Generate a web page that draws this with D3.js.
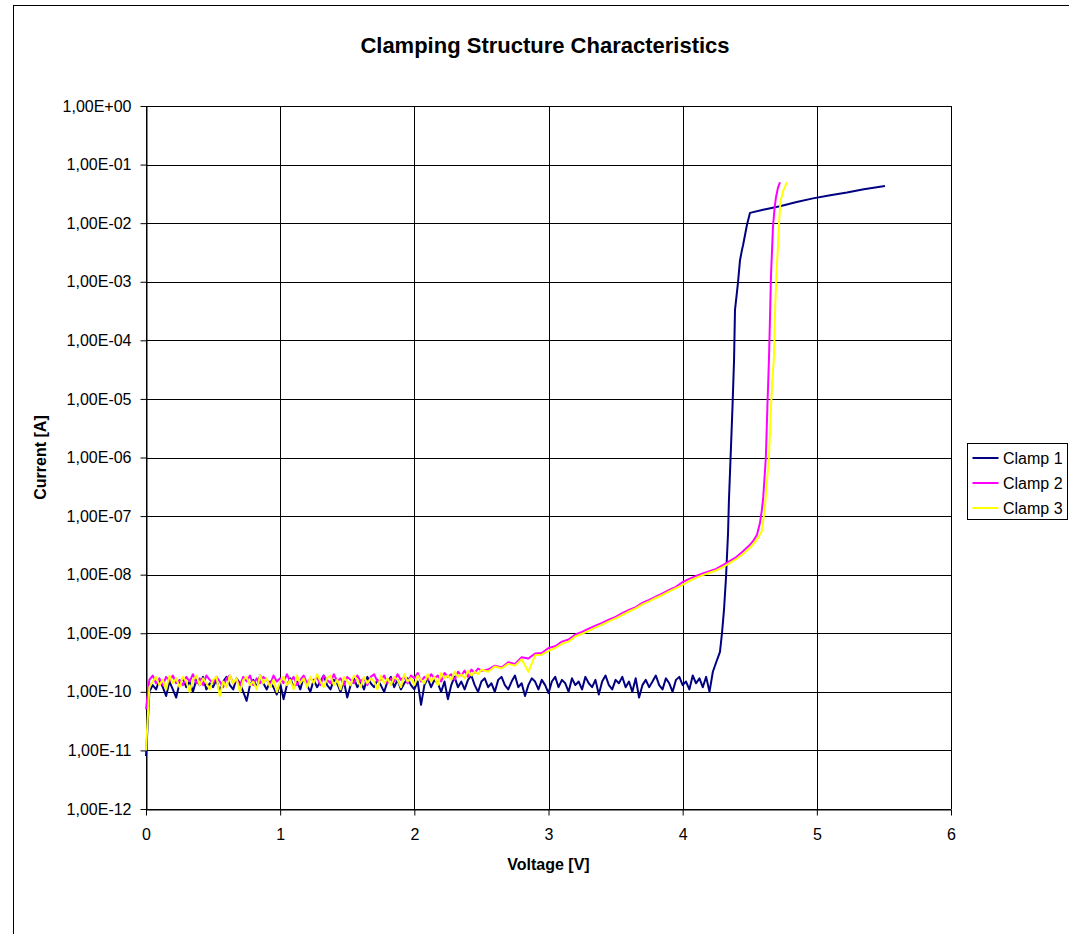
<!DOCTYPE html>
<html>
  <head>
    <meta charset="utf-8">
    <title>Clamping Structure Characteristics</title>
    <style>
      body {
        margin: 0;
        background: #fff;
      }
      svg text {
        font-family: "Liberation Sans", Arial, sans-serif;
        fill: #000;
      }
      .grid line {
        stroke: #000;
        stroke-width: 1;
      }
      .axis path, .axis line {
        stroke: #000;
      }
      .series {
        fill: none;
        stroke-width: 2;
        stroke-linejoin: round;
      }
    </style>
  </head>
  <body>

    <svg width="1069" height="934"></svg>
    <script src="https://cdn.jsdelivr.net/npm/d3@7"></script>

    <script>
      // Axis ticks
      var xTicks = [0, 1, 2, 3, 4, 5, 6];
      var yTicks = [1e-12, 1e-11, 1e-10, 1e-9, 1e-8, 1e-7, 1e-6, 1e-5, 1e-4, 1e-3, 1e-2, 1e-1, 1];
      var seriesNames = ["Clamp 1", "Clamp 2", "Clamp 3"];
      var seriesColors = ["#000080", "#ff00ff", "#ffff00"];

      // Sweep steps (V) of the measured segments
      var lowStart = 0, lowStep = 0.025;
      var midStart = 2.55, midStep = 0.05;

      // Clamp 1, leakage region, current in units of 1e-10 A (0 .. 4.2 V)
      var clamp1Low = [
        0.08, 1.0, 1.3, 1.1, 1.6, 1.2, 0.85, 1.5, 1.1, 0.8,
        1.4, 1.7, 1.2, 1.5, 1.0, 1.6, 1.3, 1.8, 1.1, 1.4,
        1.2, 1.6, 1.0, 1.5, 1.8, 1.3, 1.1, 1.7, 1.4, 1.0,
        0.7, 1.3, 1.6, 1.2, 1.9, 1.4, 1.1, 1.5, 1.2, 0.9,
        1.4, 0.75, 1.3, 1.7, 1.2, 1.5, 1.1, 1.8, 1.3, 1.0,
        1.6, 1.2, 1.5, 1.9, 1.3, 1.1, 1.6, 1.4, 1.0, 1.5,
        0.8, 1.3, 1.7, 1.2, 1.5, 1.1, 1.8, 1.4, 1.2, 1.6,
        1.3, 1.0, 1.5, 1.8, 1.2, 1.6, 1.1, 1.4, 1.7, 1.3,
        1.1, 1.5, 0.6, 1.3, 1.7, 1.2, 1.6, 1.4, 1.0, 1.5,
        0.75, 1.3, 1.8, 1.2, 1.5, 1.1, 1.6, 1.9, 1.3, 1.0,
        1.5, 1.7, 1.2, 1.4, 1.0, 1.6, 1.8, 1.3, 1.1, 1.5,
        1.9, 1.2, 1.4, 0.85, 1.3, 1.7, 1.5, 1.1, 1.6, 1.3,
        0.95, 1.5, 1.8, 1.2, 1.6, 1.4, 1.0, 1.7, 1.3, 1.5,
        1.1, 1.8, 1.4, 1.2, 1.6, 0.9, 1.5, 1.9, 1.3, 1.1,
        1.6, 1.4, 1.8, 1.2, 1.5, 1.0, 1.7, 0.8, 1.3, 1.6,
        1.2, 1.5, 1.9, 1.3, 1.1, 1.7, 1.4, 1.0, 1.6, 1.8,
        1.3, 1.5, 1.1, 1.9, 1.4, 1.7, 1.2, 1.8, 1.0
      ];
      // Clamp 1, breakdown region (V, A)
      var clamp1TailV = [4.225, 4.25, 4.278, 4.293, 4.308, 4.323, 4.338, 4.345, 4.36, 4.372, 4.383, 4.39, 4.412,
        4.427, 4.442, 4.45, 4.479, 4.502, 4.6, 4.725, 4.85, 4.971, 5.1, 5.225, 5.35, 5.508];
      var clamp1TailI = [2.2e-10, 3.2e-10, 4.8e-10, 1e-9, 2.5e-9, 9e-9, 5e-8, 1.9e-7, 1.5e-6, 8e-6, 4.6e-5, 3.3e-4, 9.5e-4,
        2.3e-3, 3.5e-3, 4.2e-3, 9.3e-3, 1.5e-2, 1.7e-2, 1.95e-2, 2.3e-2, 2.65e-2, 3.0e-2, 3.35e-2, 3.8e-2, 4.3e-2];

      // Clamp 2, leakage region, 1e-10 A (0 .. 2.5 V)
      var clamp2Low = [
        0.5, 1.6, 1.9, 1.4, 1.7, 1.3, 1.8, 1.5, 1.9, 1.4,
        1.6, 1.3, 1.8, 1.5, 2.0, 1.4, 1.7, 1.3, 1.9, 1.6,
        1.4, 1.8, 1.5, 1.2, 1.7, 1.9, 1.4, 1.6, 1.3, 1.8,
        1.5, 1.9, 1.3, 1.7, 1.4, 1.8, 1.6, 1.3, 1.9, 1.5,
        1.7, 1.4, 2.0, 1.5, 1.8, 1.3, 1.6, 1.9, 1.4, 1.7,
        1.5, 1.8, 1.3, 1.9, 1.6, 1.4, 2.0, 1.5, 1.7, 1.3,
        1.8, 1.6, 1.4, 1.9, 1.5, 1.7, 1.3, 1.8, 2.0, 1.5,
        1.6, 1.9, 1.4, 1.7, 1.5, 2.0, 1.6, 1.8, 1.4, 1.9,
        1.7, 2.1, 1.5, 1.8, 1.6, 2.0, 1.7, 1.9, 1.5, 2.1,
        1.8, 2.0, 1.6, 2.2, 1.9, 2.3, 1.8, 2.4, 2.1, 2.5,
        2.3
      ];
      // Clamp 2, exponential region, 1e-10 A (2.55 .. 4.5 V)
      var clamp2Mid = [
        2.4, 2.8, 2.6, 3.2, 3.0, 3.9, 3.7, 4.5, 4.6, 5.6,
        6.0, 7.2, 7.8, 9.5, 10.5, 12, 13.5, 15, 17, 19,
        22, 25, 28, 33, 37, 42, 48, 55, 62, 75,
        85, 95, 105, 115, 125, 145, 170, 200, 250, 320
      ];
      var clamp2TailV = [4.53, 4.554, 4.576, 4.59, 4.6, 4.62, 4.632, 4.643, 4.65, 4.658, 4.673, 4.685, 4.696, 4.71, 4.725];
      var clamp2TailI = [3.9e-8, 4.8e-8, 7.6e-8, 1.26e-7, 2e-7, 1e-6, 8e-6, 4.6e-5, 2e-4, 1.2e-3, 8.6e-3, 1.8e-2, 2.8e-2, 4e-2, 5e-2];

      // Clamp 3, leakage region, 1e-10 A (0 .. 2.5 V)
      var clamp3Low = [
        0.1, 1.2, 1.5, 1.8, 1.3, 1.6, 1.1, 1.9, 1.4, 1.7,
        1.2, 1.8, 1.5, 1.0, 1.6, 1.9, 1.3, 1.7, 1.4, 1.1,
        1.6, 1.8, 0.85, 1.5, 1.2, 1.9, 1.4, 1.7, 1.0, 1.6,
        1.8, 1.3, 1.5, 1.1, 1.9, 1.4, 1.7, 1.2, 1.6, 1.0,
        1.5, 1.8, 1.3, 1.6, 1.1, 1.9, 1.4, 1.7, 1.2, 1.8,
        1.4, 2.0, 1.5, 1.2, 1.7, 1.9, 1.3, 1.6, 1.1, 1.8,
        1.5, 1.3, 1.9, 1.6, 1.2, 1.8, 1.4, 1.7, 1.5, 1.1,
        1.9, 1.4, 1.7, 1.3, 1.8, 1.6, 1.2, 2.0, 1.5, 1.7,
        1.3, 1.9, 1.6, 1.4, 2.0, 1.5, 1.8, 1.3, 2.1, 1.7,
        1.9, 1.6, 2.2, 1.8, 2.0, 1.7, 2.3, 1.9, 2.2, 2.0,
        2.4
      ];
      var clamp3Mid = [
        2.2, 2.7, 2.5, 3.0, 2.8, 3.6, 2.2, 4.2, 4.3, 5.0,
        5.6, 6.6, 7.2, 8.8, 9.8, 11, 12.5, 14, 16, 18,
        20.5, 23.5, 26.5, 31, 35, 40, 45, 52, 59, 67,
        78, 88, 98, 108, 118, 135, 158, 185, 225, 285
      ];
      var clamp3TailV = [4.53, 4.56, 4.59, 4.61, 4.625, 4.643, 4.655, 4.668, 4.68, 4.69, 4.70, 4.71, 4.72, 4.73, 4.75, 4.777];
      var clamp3TailI = [3.4e-8, 4.2e-8, 5.5e-8, 1.2e-7, 3e-7, 1e-6, 5e-6, 2e-5, 5e-5, 4e-4, 1.5e-3, 4e-3, 1.2e-2, 2.4e-2, 3.6e-2, 5e-2];

      function buildSeries(low, mid, tailV, tailI) {
        var pts = low.map((c, k) => ({ v: lowStart + k * lowStep, i: c * 1e-10 }));
        mid.forEach((c, k) => pts.push({ v: midStart + k * midStep, i: c * 1e-10 }));
        tailV.forEach((v, k) => pts.push({ v: v, i: tailI[k] }));
        return pts;
      }
      var series = [
        buildSeries(clamp1Low, [], clamp1TailV, clamp1TailI),
        buildSeries(clamp2Low, clamp2Mid, clamp2TailV, clamp2TailI),
        buildSeries(clamp3Low, clamp3Mid, clamp3TailV, clamp3TailI)
      ];

      var svg = d3.select("svg");
      var plotL = 146, plotR = 951, plotT = 106, plotB = 809;
      var x = d3.scaleLinear().domain([0, 6]).range([plotL, plotR]);
      var y = d3.scaleLog().domain([1e-12, 1]).range([plotB, plotT]);

      var fmt = function(d) {
        var e = Math.round(Math.log10(d));
        return "1,00E" + (e < 0 ? "-" : "+") + String(Math.abs(e)).padStart(2, "0");
      };

      // Outer chart frame
      svg.append("rect")
        .attr("x", 13.5).attr("y", 5.5)
        .attr("width", 1100).attr("height", 1000)
        .attr("fill", "#fff").attr("stroke", "#000");

      // Grid
      var grid = svg.append("g").attr("class", "grid");
      grid.selectAll("line.h").data(yTicks).enter().append("line")
        .attr("class", "h")
        .attr("x1", plotL).attr("x2", plotR)
        .attr("y1", d => Math.round(y(d)) + 0.5).attr("y2", d => Math.round(y(d)) + 0.5);
      grid.selectAll("line.v").data(xTicks).enter().append("line")
        .attr("class", "v")
        .attr("y1", plotT).attr("y2", plotB)
        .attr("x1", d => Math.round(x(d)) + 0.5).attr("x2", d => Math.round(x(d)) + 0.5);

      // Axes
      svg.append("g")
        .attr("class", "axis")
        .attr("transform", `translate(${plotL + 0.5},0)`)
        .call(d3.axisLeft(y).tickValues(yTicks).tickFormat(fmt).tickSizeInner(6).tickSizeOuter(0).tickPadding(9))
        .call(g => g.selectAll("text").style("font-size", "16px").style("font-family", null));
      svg.append("g")
        .attr("class", "axis")
        .attr("transform", `translate(0,${plotB + 0.5})`)
        .call(d3.axisBottom(x).tickValues(xTicks).tickFormat(d3.format("d")).tickSizeInner(6).tickSizeOuter(0).tickPadding(13))
        .call(g => g.selectAll("text").style("font-size", "16px").style("font-family", null));

      // Series
      var line = d3.line()
        .x(d => x(d.v))
        .y(d => y(d.i));
      svg.append("g")
        .selectAll("path")
        .data(series)
        .enter()
        .append("path")
        .attr("class", "series")
        .attr("stroke", (_, k) => seriesColors[k])
        .attr("d", line);

      // Titles
      svg.append("text")
        .attr("x", 545).attr("y", 53)
        .attr("text-anchor", "middle")
        .style("font-size", "22px").style("font-weight", "bold")
        .text("Clamping Structure Characteristics");
      svg.append("text")
        .attr("x", (plotL + plotR) / 2).attr("y", 870)
        .attr("text-anchor", "middle")
        .style("font-size", "16px").style("font-weight", "bold")
        .text("Voltage [V]");
      svg.append("text")
        .attr("transform", `translate(46,${(plotT + plotB) / 2}) rotate(-90)`)
        .attr("text-anchor", "middle")
        .style("font-size", "16px").style("font-weight", "bold")
        .text("Current [A]");

      // Legend
      var legend = svg.append("g").attr("transform", "translate(967.5,443.5)");
      legend.append("rect")
        .attr("width", 100).attr("height", 76)
        .attr("fill", "#fff").attr("stroke", "#000");
      var items = legend.selectAll("g.item")
        .data(seriesNames)
        .enter()
        .append("g")
        .attr("class", "item")
        .attr("transform", (_, k) => `translate(0,${14.5 + k * 25})`);
      items.append("line")
        .attr("x1", 5).attr("x2", 31)
        .attr("stroke", (_, k) => seriesColors[k])
        .attr("stroke-width", 2);
      items.append("text")
        .attr("x", 35.5).attr("dy", "0.36em")
        .style("font-size", "16px")
        .text(d => d);
    </script>
  </body>
</html>
